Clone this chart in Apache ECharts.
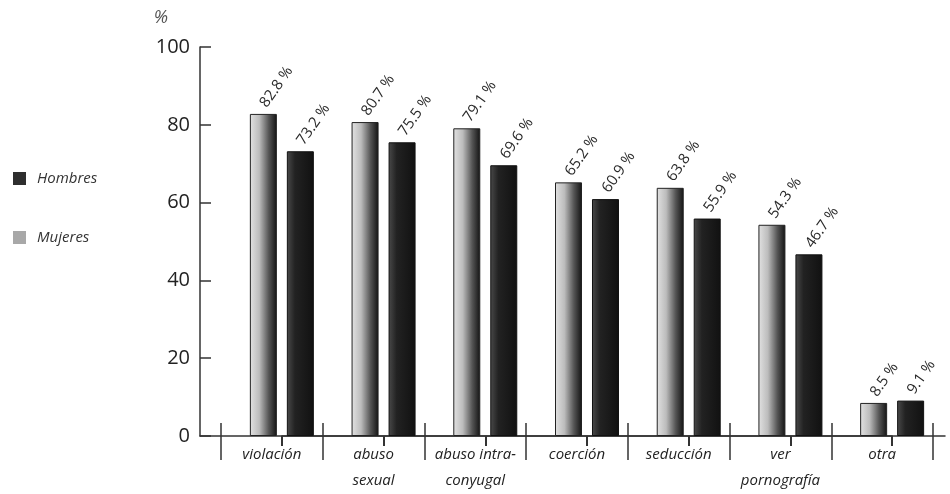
<!DOCTYPE html>
<html>
<head>
<meta charset="utf-8">
<script src="https://cdn.jsdelivr.net/npm/echarts@6/dist/echarts.min.js"></script>
<style>
  html, body { margin: 0; padding: 0; background: #fff; }
  #chart { width: 950px; height: 494px; }
</style>
</head>
<body>
<div id="chart"></div>
<script>
// Motivos y porcentajes por sexo
const categories = ['violación', 'abuso\nsexual', 'abuso intra-\nconyugal', 'coerción', 'seducción', 'ver\npornografía', 'otra'];
const mujeres = [82.8, 80.7, 79.1, 65.2, 63.8, 54.3, 8.5];
const hombres = [73.2, 75.5, 69.6, 60.9, 55.9, 46.7, 9.1];
const yTicks = { min: 0, max: 100, interval: 20 };

const FONT = '"Open Sans", "DejaVu Sans", sans-serif';
const TOP = 47, BOTTOM = 58;
const BAR_LEFT = 231, BAR_WIDTH = 712;
const SLOT = BAR_WIDTH / categories.length;
const AXIS_COLOR = '#333';

const mujeresFill = {
  type: 'linear', x: 0, y: 0, x2: 1, y2: 0,
  colorStops: [
    { offset: 0, color: '#e2e2e2' },
    { offset: 0.35, color: '#bcbcbc' },
    { offset: 0.7, color: '#555' },
    { offset: 1, color: '#121212' }
  ]
};
const hombresFill = {
  type: 'linear', x: 0, y: 0, x2: 1, y2: 0,
  colorStops: [
    { offset: 0, color: '#4a4a4a' },
    { offset: 0.3, color: '#222' },
    { offset: 1, color: '#111' }
  ]
};

const valueLabel = {
  show: true,
  position: 'top',
  rotate: 55,
  align: 'left',
  verticalAlign: 'middle',
  distance: 8,
  fontFamily: FONT,
  fontSize: 15,
  color: '#2a2a2a',
  formatter: p => p.value.toFixed(1) + ' %'
};

const hiddenY = (gi) => ({
  gridIndex: gi, type: 'value', min: yTicks.min, max: yTicks.max, interval: yTicks.interval,
  show: false
});

const chart = echarts.init(document.getElementById('chart'));
chart.setOption({
  animation: false,
  backgroundColor: '#fff',
  legend: {
    orient: 'vertical',
    left: 8,
    top: 166,
    itemGap: 44,
    itemWidth: 13,
    itemHeight: 13,
    icon: 'rect',
    textStyle: { fontFamily: FONT, fontStyle: 'italic', fontSize: 15, color: '#333', padding: [0, 0, 0, 6] },
    data: [
      { name: 'Hombres', itemStyle: { color: '#2e2e2e', borderWidth: 0 } },
      { name: 'Mujeres', itemStyle: { color: '#a8a8a8', borderWidth: 0 } }
    ]
  },
  grid: [
    // full-width frame carrying the y axis and the baseline
    { left: 200, right: 5, top: TOP, bottom: BOTTOM },
    // category labels and long dividers
    { left: 221, width: 712, top: TOP, bottom: BOTTOM },
    // bars
    { left: BAR_LEFT, width: BAR_WIDTH, top: TOP, bottom: BOTTOM },
    // short ticks at the centre of each bar pair
    { left: BAR_LEFT + SLOT / 2, width: SLOT * (categories.length - 1), top: TOP, bottom: BOTTOM }
  ],
  xAxis: [
    {
      gridIndex: 0, type: 'value', min: 0, max: 1,
      axisLine: { show: true, lineStyle: { color: AXIS_COLOR, width: 1.5 } },
      axisTick: { show: false }, axisLabel: { show: false }, splitLine: { show: false }
    },
    {
      gridIndex: 1, type: 'category', data: categories,
      axisLine: { show: false },
      axisTick: { show: true, length: 37, lineStyle: { color: AXIS_COLOR, width: 1.5 } },
      axisLabel: {
        margin: 19, fontFamily: FONT, fontStyle: 'italic', fontSize: 15,
        color: '#222', lineHeight: 26, interval: 0
      },
      splitLine: { show: false }
    },
    {
      gridIndex: 2, type: 'category', data: categories,
      show: false
    },
    {
      gridIndex: 3, type: 'value', min: 0, max: categories.length - 1, interval: 1,
      axisLine: { show: true, lineStyle: { color: AXIS_COLOR, width: 1.5 } },
      axisTick: { show: true, length: 10, lineStyle: { color: AXIS_COLOR, width: 2 } },
      axisLabel: { show: true, color: 'rgba(0,0,0,0)' },
      splitLine: { show: false }
    }
  ],
  yAxis: [
    {
      gridIndex: 0, type: 'value', min: yTicks.min, max: yTicks.max, interval: yTicks.interval,
      name: '%',
      nameLocation: 'end',
      nameGap: 20,
      nameTextStyle: { fontFamily: FONT, fontStyle: 'italic', fontSize: 18, color: '#555', align: 'right', padding: [0, 32, 0, 0] },
      axisLine: { show: true, lineStyle: { color: AXIS_COLOR, width: 1.5 } },
      axisTick: { show: true, inside: true, length: 11, lineStyle: { color: AXIS_COLOR, width: 1.5 } },
      axisLabel: { margin: 10, fontFamily: FONT, fontSize: 20, color: '#222' },
      splitLine: { show: false }
    },
    hiddenY(1),
    hiddenY(2),
    hiddenY(3)
  ],
  series: [
    {
      name: 'Mujeres', type: 'bar', xAxisIndex: 2, yAxisIndex: 2,
      data: mujeres, barWidth: 27, barGap: '37%',
      itemStyle: { color: mujeresFill, borderColor: '#222', borderWidth: 1 },
      label: valueLabel
    },
    {
      name: 'Hombres', type: 'bar', xAxisIndex: 2, yAxisIndex: 2,
      data: hombres, barWidth: 27, barGap: '37%',
      itemStyle: { color: hombresFill, borderColor: '#111', borderWidth: 1 },
      label: valueLabel
    }
  ]
});
</script>
</body>
</html>
